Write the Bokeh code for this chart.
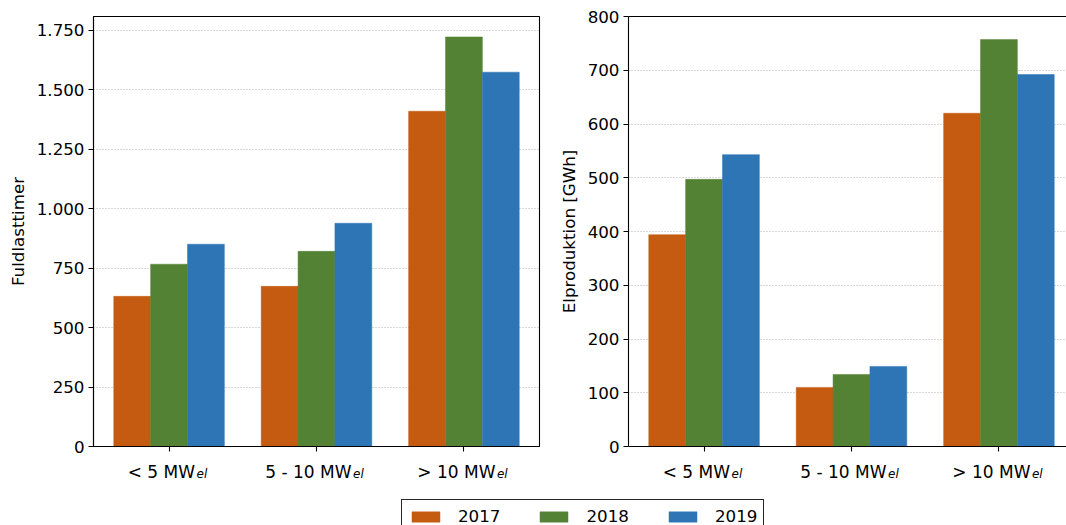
from bokeh.plotting import figure
from bokeh.models import (ColumnDataSource, Legend, LegendItem,
                          FixedTicker, Range1d, LinearAxis, CustomLabelingPolicy)
from bokeh.layouts import column, row
from bokeh.transform import dodge
from bokeh.core.properties import value
from bokeh.embed import file_html
from bokeh.resources import INLINE

# ---------------- data ----------------
categories = ["< 5 MW", "5 - 10 MW", "> 10 MW"]
category_subscript = ["el", "el", "el"]
years = ["2017", "2018", "2019"]

fuld_2017 = [631, 673, 1409]
fuld_2018 = [766, 820, 1721]
fuld_2019 = [850, 938, 1573]

el_2017 = [394, 110, 620]
el_2018 = [497, 134, 757]
el_2019 = [543, 149, 692]

fuld_ticks = [0, 250, 500, 750, 1000, 1250, 1500, 1750]
fuld_tick_labels = ["0", "250", "500", "750", "1.000", "1.250", "1.500", "1.750"]
el_ticks = [0, 100, 200, 300, 400, 500, 600, 700, 800]
el_tick_labels = ["0", "100", "200", "300", "400", "500", "600", "700", "800"]

# ---------------- style ----------------
colors = ["#C55A11", "#548235", "#2E75B6"]
FONT = "DejaVu Sans"
FS = "16.7px"
CAT_FS = "17px"
SUB_FS = "12px"
label_shift = [26.0, 35.0, 31.5]   # px, centring of "text + subscript"
BAR_W = 0.25
X0 = -0.5125
PX_PER_UNIT = 446 / 3.025
PLOT_H = 456            # frame 16..446, 10 px border below
STRIP_H = 24

# x-axis keeps its tick marks; its own labels are replaced by the strip below
NO_LABELS = CustomLabelingPolicy(code="""
for (const i of indices)
  indices.unset(i)
""")


def style_axes(p, ylabel, ticks, tick_labels):
    p.xgrid.visible = False
    p.ygrid.grid_line_color = "#b0b0b0"
    p.ygrid.grid_line_dash = "1 2"
    p.ygrid.grid_line_width = 1

    xa = p.xaxis[0]
    xa.ticker = FixedTicker(ticks=list(range(len(categories))))
    xa.major_label_policy = NO_LABELS
    xa.major_label_text_font_size = "1px"
    xa.major_label_standoff = 0
    ya = p.yaxis[0]
    ya.ticker = FixedTicker(ticks=ticks)
    ya.major_label_overrides = dict(zip(ticks, tick_labels))
    ya.axis_label = ylabel
    ya.axis_label_standoff = 6
    ya.major_label_standoff = 4
    ya.major_label_text_font_size = FS
    for ax in (xa, ya):
        ax.axis_line_color = "black"
        ax.axis_line_width = 1.1
        ax.major_tick_line_color = "black"
        ax.major_tick_line_width = 1.1
        ax.major_tick_out = 5
        ax.major_tick_in = 0
        ax.minor_tick_line_color = None
        ax.major_label_text_font = FONT
        ax.major_label_text_color = "black"
        ax.axis_label_text_font = FONT
        ax.axis_label_text_font_size = FS
        ax.axis_label_text_font_style = "normal"
        ax.axis_label_text_color = "black"


def bar_source(s2017, s2018, s2019):
    return ColumnDataSource(dict(x=list(range(len(categories))),
                                 y2017=s2017, y2018=s2018, y2019=s2019))


def add_bars(p, src):
    rs = []
    for key, off, c in zip(["y2017", "y2018", "y2019"], [-BAR_W, 0.0, BAR_W], colors):
        rs.append(p.vbar(x=dodge("x", off), top=key, width=BAR_W, source=src,
                         fill_color=c, line_color=c, line_width=0.5))
    return rs


def label_strip(width, x_range, left, right):
    """Category labels (with italic subscript) under a plot."""
    s = figure(width=width, height=STRIP_H, x_range=x_range, y_range=Range1d(0, 1),
               x_axis_type=None, y_axis_type=None,
               output_backend="svg", toolbar_location=None,
               min_border_left=left, min_border_right=right,
               min_border_top=0, min_border_bottom=0)
    s.outline_line_color = None
    s.grid.visible = False
    n = len(categories)
    src = ColumnDataSource(dict(
        x=list(range(n)), mid=[0.5] * n,
        text=categories, sub=category_subscript,
        off=label_shift, off_sub=[v + 1.5 for v in label_shift]))
    s.text(x="x", y="mid", text="text", source=src,
           x_offset="off", y_offset=3,
           text_align="right", text_baseline="alphabetic",
           text_font=value(FONT), text_font_size=value(CAT_FS), text_color="black")
    s.text(x="x", y="mid", text="sub", source=src,
           x_offset="off_sub", y_offset=5,
           text_align="left", text_baseline="alphabetic",
           text_font=value(FONT), text_font_size=value(SUB_FS),
           text_font_style="italic", text_color="black")
    return s


# ---------------- left plot ----------------
P1_W, P1_LEFT, P1_RIGHT = 554, 93, 15
p1 = figure(width=P1_W, height=PLOT_H,
            x_range=Range1d(X0, 2.5125), y_range=Range1d(0, 1807),
            output_backend="svg", toolbar_location=None,
            min_border_left=P1_LEFT, min_border_right=P1_RIGHT,
            min_border_top=16, min_border_bottom=10)
p1.outline_line_color = "black"
p1.outline_line_width = 1.1
style_axes(p1, "Fuldlasttimer", fuld_ticks, fuld_tick_labels)
src1 = bar_source(fuld_2017, fuld_2018, fuld_2019)
add_bars(p1, src1)
s1 = label_strip(P1_W, p1.x_range, P1_LEFT, P1_RIGHT)

# ---------------- right plot ----------------
P2_W, P2_LEFT = 1066 - P1_W, 74
p2 = figure(width=P2_W, height=PLOT_H,
            x_range=Range1d(X0, X0 + (P2_W - P2_LEFT) / PX_PER_UNIT),
            y_range=Range1d(0, 800),
            output_backend="svg", toolbar_location=None,
            min_border_left=P2_LEFT, min_border_right=0,
            min_border_top=16, min_border_bottom=10)
p2.outline_line_color = None
style_axes(p2, "Elproduktion [GWh]", el_ticks, el_tick_labels)
top_axis = LinearAxis(ticker=FixedTicker(ticks=[]), axis_line_color="black",
                      axis_line_width=1.1, major_tick_out=0, major_tick_in=0,
                      major_tick_line_color=None, minor_tick_line_color=None)
p2.add_layout(top_axis, "above")
add_bars(p2, bar_source(el_2017, el_2018, el_2019))
s2 = label_strip(P2_W, p2.x_range, P2_LEFT, 0)

# ---------------- legend strip ----------------
lf = figure(width=1066, height=525 - PLOT_H - STRIP_H,
            x_axis_type=None, y_axis_type=None,
            output_backend="svg", toolbar_location=None,
            min_border_left=0, min_border_right=0,
            min_border_top=0, min_border_bottom=0,
            x_range=Range1d(-10, -9), y_range=Range1d(-10, -9))
lf.outline_line_color = None
lf.grid.visible = False
legend_renderers = add_bars(lf, src1)   # outside the visible range; legend only
items = [LegendItem(label=y, renderers=[r]) for y, r in zip(years, legend_renderers)]
legend = Legend(items=items, location=(401, -8), orientation="horizontal",
                glyph_width=35, glyph_height=13, label_standoff=15,
                spacing=36, padding=6, margin=0,
                label_text_font=FONT, label_text_font_size=FS,
                label_text_color="black",
                border_line_color="black", border_line_alpha=0.85,
                border_line_width=1, background_fill_color="white")
lf.add_layout(legend, "center")

layout = column(row(column(p1, s1), column(p2, s2)), lf)
open("out.html", "w").write(file_html(layout, INLINE))
